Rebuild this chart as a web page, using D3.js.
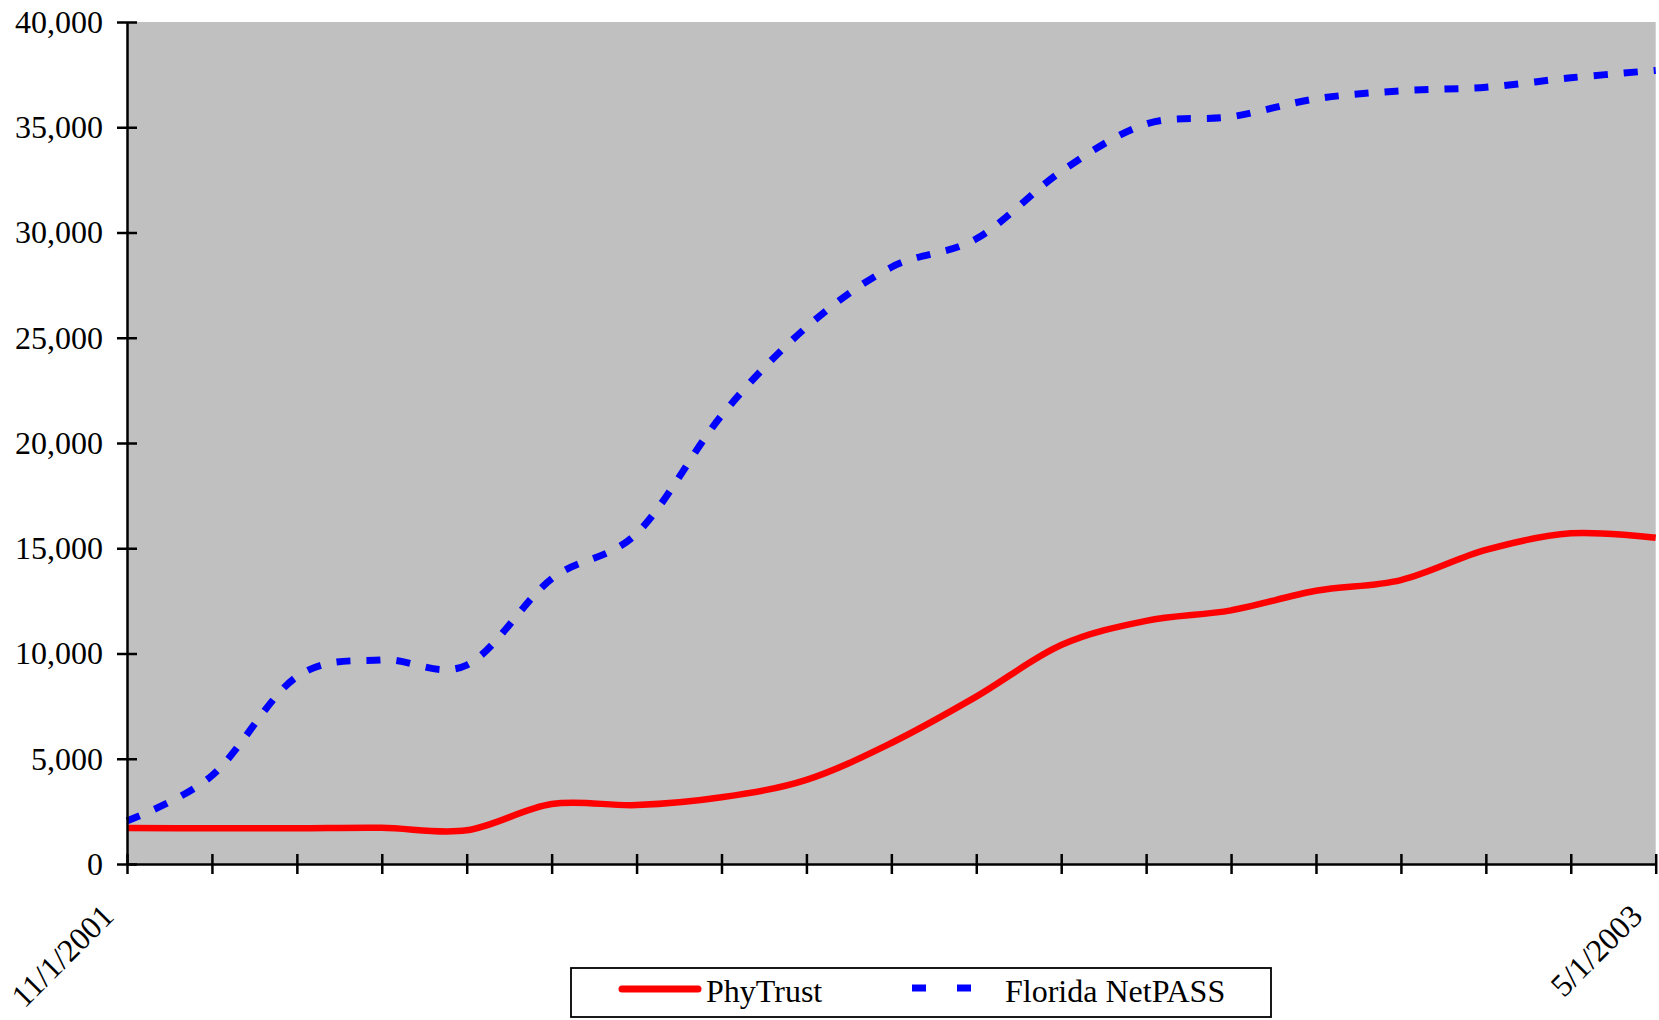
<!DOCTYPE html>
<html>
<head>
<meta charset="utf-8">
<script src="https://cdn.jsdelivr.net/npm/d3@7"></script>
<style>
  html, body { margin: 0; padding: 0; background: #ffffff; }
  svg { display: block; }
  text { font-family: "Liberation Serif", "Times New Roman", serif; fill: #000; }
</style>
</head>
<body>
<svg id="chart" width="1659" height="1020"></svg>
<script>
// Monthly enrollment, November 2001 through May 2003
const months = [
  "11/1/2001", "12/1/2001", "1/1/2002", "2/1/2002", "3/1/2002", "4/1/2002",
  "5/1/2002", "6/1/2002", "7/1/2002", "8/1/2002", "9/1/2002", "10/1/2002",
  "11/1/2002", "12/1/2002", "1/1/2003", "2/1/2003", "3/1/2003", "4/1/2003",
  "5/1/2003"
];
const phyTrust = [
  1710, 1700, 1700, 1720, 1600, 2850, 2800, 3170, 4000, 5750,
  7950, 10400, 11550, 12050, 12980, 13490, 14920, 15710, 15500
];
const floridaNetPASS = [
  2050, 4200, 8900, 9700, 9450, 13550, 15700, 21300, 25500, 28350,
  29700, 32900, 35150, 35500, 36350, 36730, 36900, 37350, 37700
];
const yTicks = [0, 5000, 10000, 15000, 20000, 25000, 30000, 35000, 40000];
const seriesNames = ["PhyTrust", "Florida NetPASS"];

const FONT = '"Liberation Serif", "Times New Roman", serif';
const FONT_SIZE = "32px";

const svg = d3.select("#chart");
const margin = { left: 127, top: 22, right: 3.3, bottom: 156 };
const W = 1659, H = 1020;
const plotW = W - margin.left - margin.right;
const plotH = H - margin.top - margin.bottom;

const x = d3.scalePoint().domain(months).range([0, plotW]).padding(0);
const y = d3.scaleLinear().domain([0, 40000]).range([plotH, 0]);

const g = svg.append("g").attr("transform", `translate(${margin.left},${margin.top})`);

// plot area
g.append("rect")
  .attr("x", 0).attr("y", 0)
  .attr("width", plotW).attr("height", plotH)
  .attr("fill", "#c0c0c0");

// series lines (smoothed through the monthly points)
const line = d3.line()
  .x((d, i) => x(months[i]))
  .y(d => y(d))
  .curve(d3.curveCatmullRom.alpha(0));

g.append("path")
  .datum(phyTrust)
  .attr("d", line)
  .attr("fill", "none")
  .attr("stroke", "#ff0000")
  .attr("stroke-width", 6.5)
  .attr("stroke-linejoin", "round");

g.append("path")
  .datum(floridaNetPASS)
  .attr("d", line)
  .attr("fill", "none")
  .attr("stroke", "#0000ff")
  .attr("stroke-width", 7)
  .attr("stroke-dasharray", "14,16");

// y axis
const yAxis = g.append("g")
  .call(d3.axisLeft(y).tickValues(yTicks).tickFormat(d3.format(","))
    .tickSizeInner(10).tickSizeOuter(0).tickPadding(14));
yAxis.select(".domain").attr("stroke", "#000").attr("stroke-width", 2.5);
yAxis.selectAll(".tick line").attr("x1", 10).attr("x2", -10)
  .attr("stroke", "#000").attr("stroke-width", 2.5);
yAxis.selectAll(".tick text")
  .style("font-family", FONT)
  .style("font-size", FONT_SIZE).attr("fill", "#000");

// x axis: tick on every month, labels only at the ends
const firstLast = new Set([months[0], months[months.length - 1]]);
const xAxis = g.append("g")
  .attr("transform", `translate(0,${plotH})`)
  .call(d3.axisBottom(x).tickSizeInner(10).tickSizeOuter(0)
    .tickFormat(d => firstLast.has(d) ? d : ""));
xAxis.select(".domain").attr("stroke", "#000").attr("stroke-width", 2.5);
xAxis.selectAll(".tick line").attr("y1", -10).attr("y2", 10)
  .attr("stroke", "#000").attr("stroke-width", 2.5);
xAxis.selectAll(".tick text")
  .style("font-family", FONT)
  .style("font-size", FONT_SIZE).attr("fill", "#000")
  .attr("text-anchor", "end")
  .attr("dy", null)
  .attr("y", 0)
  .attr("transform", "translate(-12,54) rotate(-45)");

// legend
const legend = svg.append("g");
legend.append("rect")
  .attr("x", 571).attr("y", 968)
  .attr("width", 700).attr("height", 49)
  .attr("fill", "#ffffff").attr("stroke", "#000").attr("stroke-width", 1.8);
legend.append("line")
  .attr("x1", 622).attr("x2", 698).attr("y1", 989).attr("y2", 989)
  .attr("stroke", "#ff0000").attr("stroke-width", 7).attr("stroke-linecap", "round");
legend.append("text")
  .attr("x", 706).attr("y", 1002)
  .style("font-family", FONT)
  .style("font-size", FONT_SIZE)
  .text(seriesNames[0]);
legend.append("line")
  .attr("x1", 912).attr("x2", 971).attr("y1", 988).attr("y2", 988)
  .attr("stroke", "#0000ff").attr("stroke-width", 7).attr("stroke-dasharray", "14,31");
legend.append("text")
  .attr("x", 1005).attr("y", 1002)
  .style("font-family", FONT)
  .style("font-size", FONT_SIZE)
  .text(seriesNames[1]);
</script>
</body>
</html>
